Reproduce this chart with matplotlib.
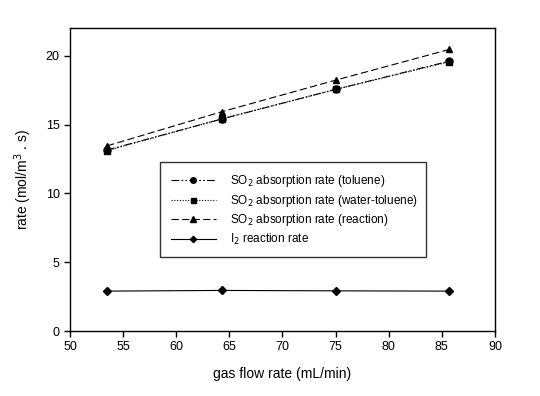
import matplotlib
matplotlib.use('Agg')
import matplotlib.pyplot as plt

plt.rcParams['font.family'] = ['Liberation Sans', 'DejaVu Sans']

# values
flow = [53.5, 64.3, 75.0, 85.7]
so2_toluene = [13.15, 15.40, 17.55, 19.60]
so2_water_toluene = [13.10, 15.42, 17.55, 19.55]
so2_reaction = [13.45, 15.93, 18.22, 20.45]
i2_reaction = [2.90, 2.95, 2.92, 2.90]

labels = ['SO$_2$ absorption rate (toluene)',
          'SO$_2$ absorption rate (water-toluene)',
          'SO$_2$ absorption rate (reaction)',
          'I$_2$ reaction rate']

fig = plt.figure(figsize=(5.4, 3.96), dpi=100)
ax = fig.add_axes([0.1296, 0.164, 0.787, 0.765])

ax.plot(flow, so2_toluene, color='black', lw=0.8, dashes=[7, 2, 1.5, 2, 1.5, 2],
        marker='o', ms=5, label=labels[0])
ax.plot(flow, so2_water_toluene, color='black', lw=0.8, linestyle=(0, (1, 1.5)),
        marker='s', ms=4.5, label=labels[1])
ax.plot(flow, so2_reaction, color='black', lw=0.8, dashes=[6.5, 3],
        marker='^', ms=5, label=labels[2])
ax.plot(flow, i2_reaction, color='black', lw=0.8, linestyle='-',
        marker='D', ms=4, label=labels[3])

ax.set_xlim(50, 90)
ax.set_ylim(0, 22)
ax.set_xticks(range(50, 91, 5))
ax.set_yticks([0, 5, 10, 15, 20])
ax.tick_params(direction='out', length=4, width=1, labelsize=9,
               top=False, right=False)
for s in ax.spines.values():
    s.set_linewidth(1)

ax.set_xlabel('gas flow rate (mL/min)', fontsize=10, labelpad=10)
ax.set_ylabel('rate (mol/m$^3$ . s)', fontsize=10, labelpad=8)

leg = ax.legend(loc='lower left', bbox_to_anchor=(0.212, 0.243, 0.626, 0.297),
                mode='expand', fontsize=8.5, frameon=True, fancybox=False,
                edgecolor='black', handlelength=3.8, handletextpad=1.2,
                borderaxespad=0, labelspacing=0.3, borderpad=0.9,
                markerscale=0.8)
leg.get_frame().set_linewidth(1)

fig.savefig('out.png', dpi=100)
